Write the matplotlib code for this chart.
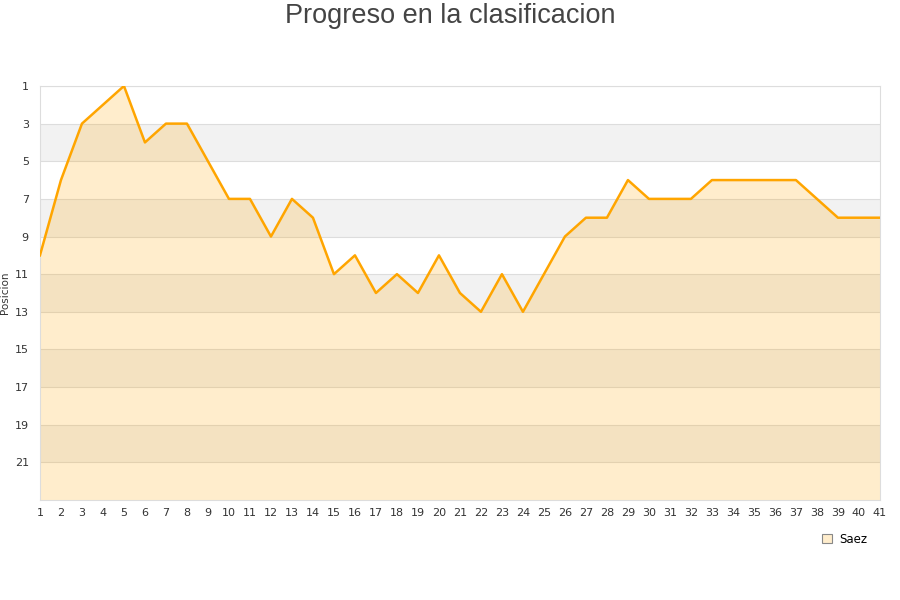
import matplotlib
matplotlib.use('Agg')
import matplotlib.pyplot as plt
from matplotlib.patches import Patch

# jornadas y posiciones
jornadas = list(range(1, 42))
posiciones = [10, 6, 3, 2, 1, 4, 3, 3, 5, 7, 7, 9, 7, 8, 11, 10, 12, 11, 12, 10,
              12, 13, 11, 13, 11, 9, 8, 8, 6, 7, 7, 7, 6, 6, 6, 6, 6, 7, 8, 8, 8]
y_ticks = list(range(1, 23, 2))
jugador = 'Saez'

fig = plt.figure(figsize=(9, 6), dpi=100)
ax = fig.add_axes([0.0444, 0.1667, 0.9333, 0.69])

# bandas alternas
for i, t in enumerate(y_ticks):
    if i % 2 == 1:
        ax.axhspan(t, t + 2, color='#f2f2f2', zorder=0, lw=0)
for t in y_ticks:
    ax.axhline(t, color='#dddddd', lw=0.8, zorder=1)

ax.fill_between(jornadas, posiciones, 23, color='#ffa500', alpha=0.2, lw=0, zorder=2)
ax.plot(jornadas, posiciones, color='#ffa500', lw=1.8, zorder=3)

ax.set_xlim(1, 41)
ax.set_ylim(23, 1)
ax.set_xticks(jornadas)
ax.set_yticks(y_ticks)
ax.tick_params(axis='both', length=0, labelsize=8, colors='#333333', pad=6)
ax.tick_params(axis='y', pad=8)
for s in ax.spines.values():
    s.set_color('#dddddd')
ax.set_ylabel('Posicion', fontsize=7.5, color='#333333')
ax.yaxis.set_label_coords(-0.036, 0.5)

fig.suptitle('Progreso en la clasificacion', fontsize=19.5, color='#444444',
             family='Liberation Sans', y=0.995)

fig.legend(handles=[Patch(facecolor='#ffedcc', edgecolor='#888888', lw=0.8)],
           labels=[jugador], loc='upper right', bbox_to_anchor=(0.975, 0.13),
           frameon=False, fontsize=8.5, handlelength=0.8, handleheight=0.8,
           handletextpad=0.6)

fig.savefig('out.png', dpi=100)
